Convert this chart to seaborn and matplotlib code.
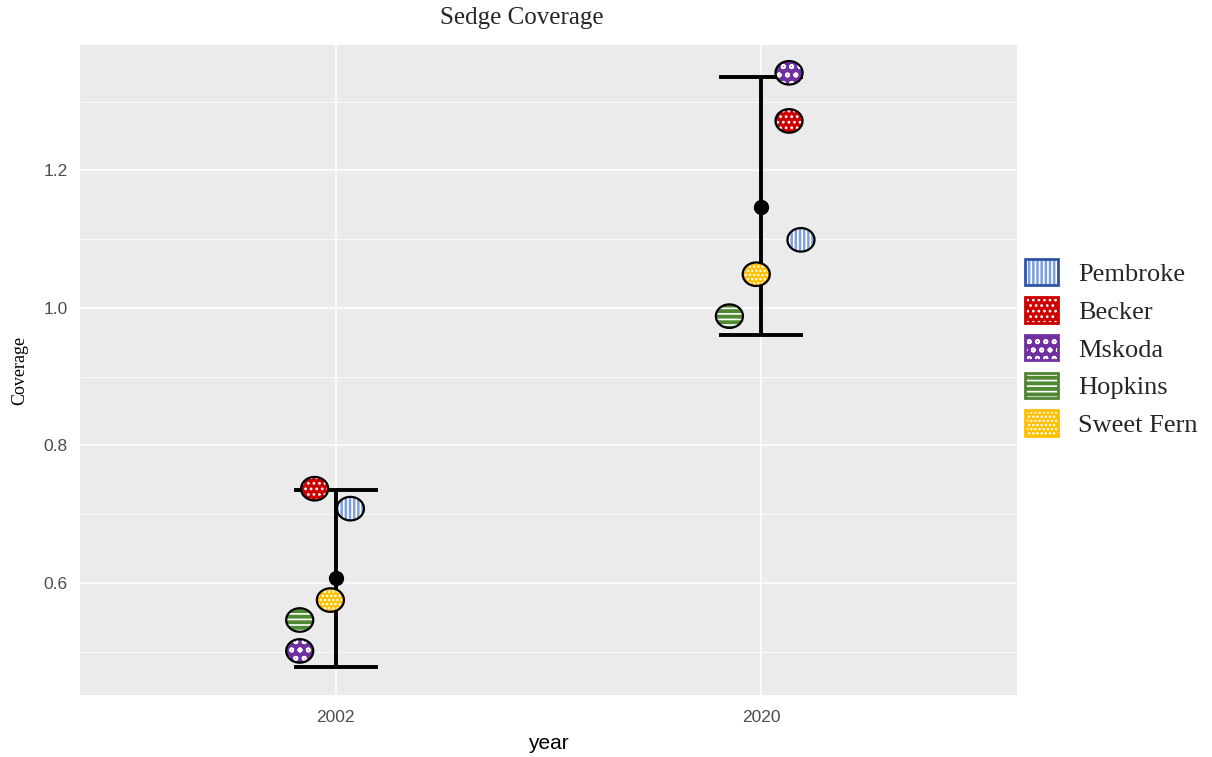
import numpy as np
import pandas as pd
import seaborn as sns
import matplotlib.pyplot as plt
from matplotlib.patches import Patch
from matplotlib.path import Path
from matplotlib.legend_handler import HandlerTuple

# data
years = ['2002', '2020']
sites = ['Pembroke', 'Becker', 'Mskoda', 'Hopkins', 'Sweet Fern']
cov_2002 = [0.708, 0.737, 0.501, 0.546, 0.575]
cov_2020 = [1.099, 1.272, 1.342, 0.988, 1.049]
jit_2002 = [0.035, -0.049, -0.084, -0.084, -0.012]
jit_2020 = [0.093, 0.065, 0.065, -0.075, -0.012]
mean_cov = [0.607, 1.147]
err_low = [0.478, 0.961]
err_high = [0.735, 1.336]

fills = ['#7f9fd6', '#cc0000', '#7030a0', '#4f8a33', '#ffc000']
edges = ['#2f55a4', '#cc0000', '#7030a0', '#548235', '#ffc000']
hatches = ['||||', '...', 'oo', '---', '....']

df = pd.DataFrame({
    'year': np.repeat(years, len(sites)),
    'site': sites * 2,
    'Coverage': cov_2002 + cov_2020,
    'jit': jit_2002 + jit_2020,
})
df['x'] = df['year'].map({y: i for i, y in enumerate(years)}) + df['jit']

# slightly wide ellipse marker like the original
t = np.linspace(0, 2 * np.pi, 60)
ell = Path(np.column_stack([1.15 * np.cos(t), np.sin(t)]), closed=True)

sns.set_theme(style='darkgrid')
plt.rcParams['hatch.linewidth'] = 1.2
fig, ax = plt.subplots(figsize=(12.12, 7.57), dpi=100)
fig.subplots_adjust(left=0.066, right=0.839, top=0.9406, bottom=0.082)
ax.set_facecolor('#ebebeb')

# error bars + mean point
ax.errorbar(range(len(years)), mean_cov,
            yerr=[np.array(mean_cov) - np.array(err_low), np.array(err_high) - np.array(mean_cov)],
            fmt='o', color='black', ms=10, elinewidth=2.8, capsize=30, capthick=2.8, zorder=3)

# site points: hatched fill then black outline
for s, fc, h in zip(sites, fills, hatches):
    d = df[df['site'] == s]
    sns.scatterplot(data=d, x='x', y='Coverage', ax=ax, s=380, marker=ell,
                    color=fc, edgecolor='white', linewidth=0, hatch=h, zorder=4, legend=False)
    sns.scatterplot(data=d, x='x', y='Coverage', ax=ax, s=380, marker=ell,
                    facecolor='none', edgecolor='black', linewidth=1.6, zorder=5, legend=False)

ax.set_xlim(-0.6, 1.6)
ax.set_ylim(0.437, 1.3825)
ax.set_xticks(range(len(years)))
ax.set_xticklabels(years)
ax.set_yticks([0.6, 0.8, 1.0, 1.2])
ax.set_yticklabels(['0.6', '0.8', '1.0', '1.2'])
ax.set_yticks([0.5, 0.7, 0.9, 1.1, 1.3], minor=True)
ax.grid(which='major', color='white', linewidth=1.1)
ax.grid(which='minor', axis='y', color='white', linewidth=0.55)
for sp in ax.spines.values():
    sp.set_visible(False)
ax.tick_params(axis='both', which='major', length=4, color='#4d4d4d', labelsize=12.5,
               labelcolor='#4d4d4d', width=1, pad=5)
ax.tick_params(axis='x', pad=7)
ax.tick_params(which='minor', length=0)
for tl in ax.get_xticklabels() + ax.get_yticklabels():
    tl.set_family('Liberation Sans')

ax.set_xlabel('year', family='Liberation Sans', fontsize=15, color='black', labelpad=6)
ax.set_ylabel('Coverage', family='Liberation Serif', fontsize=13, color='black', labelpad=11)
ax.set_title('Sedge Coverage', family='Liberation Serif', fontsize=18, pad=15, x=0.472)

# legend: white hatch on colour, with coloured outline on top
handles = [(Patch(facecolor=fc, edgecolor='white', hatch=h, linewidth=0),
            Patch(facecolor='none', edgecolor=ec, linewidth=2))
           for fc, ec, h in zip(fills, edges, hatches)]
fig.legend(handles, sites, loc='center left', bbox_to_anchor=(0.846, 0.54),
           frameon=False, prop={'family': 'Liberation Serif', 'size': 19},
           borderpad=0, borderaxespad=0,
           handlelength=1.25, handleheight=1.1, labelspacing=0.42, handletextpad=0.75,
           handler_map={tuple: HandlerTuple(ndivide=1, pad=0)})

fig.savefig('out.png', dpi=100)
